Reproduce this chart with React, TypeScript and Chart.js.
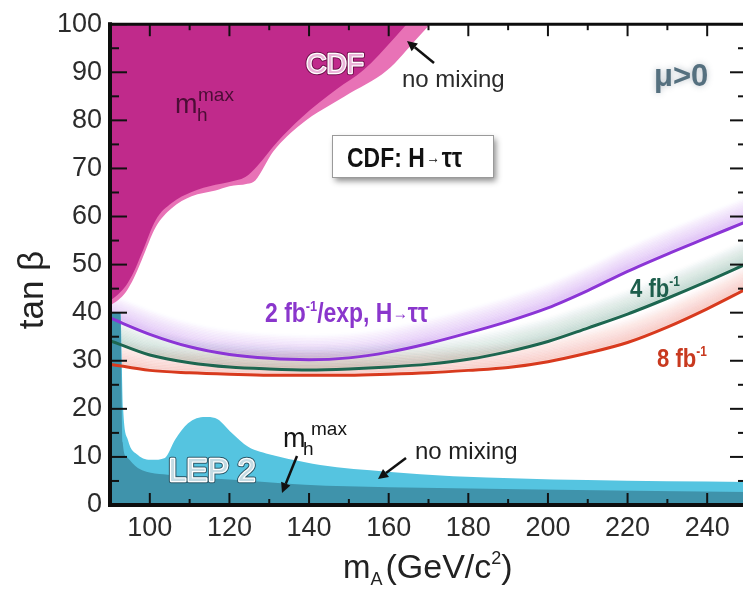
import React, { useEffect, useRef } from "react";
import { Chart, registerables } from "chart.js";

Chart.register(...registerables);

// ---- axis ticks ----
const xTickValues = [100, 120, 140, 160, 180, 200, 220, 240];
const xMinorTickValues = [110, 130, 150, 170, 190, 210, 230];
const yTickValues = [0, 10, 20, 30, 40, 50, 60, 70, 80, 90, 100];
const yMinorTickValues = [5, 15, 25, 35, 45, 55, 65, 75, 85, 95];

// ---- expected sensitivity curves (tan beta vs mA) ----
const mA = [90, 100, 110, 120, 130, 140, 150, 160, 170, 180, 190, 200, 210, 220, 230, 240, 250];
const tanB2fbExp = [38.9, 35.5, 32.9, 31.3, 30.5, 30.2, 30.6, 31.8, 33.6, 35.8, 38.2, 41.0, 44.6, 48.6, 52.2, 55.6, 59.0];
const tanB4fb = [34.2, 31.2, 29.6, 28.7, 28.3, 28.1, 28.3, 28.7, 29.3, 30.3, 31.9, 34.0, 36.8, 39.7, 43.0, 46.5, 50.2];
const tanB8fb = [29.3, 28.0, 27.5, 27.2, 27.0, 27.0, 27.0, 27.2, 27.5, 28.0, 28.6, 29.8, 31.6, 33.8, 37.0, 40.8, 45.0];

// ---- CDF excluded regions (boundary, excluded above) ----
const cdfMhmaxMA = [90, 92, 94, 96, 98, 101.5, 105.5, 110.5, 116.5, 120, 124, 127, 132, 138, 147, 153.6, 161.6, 164.5];
const cdfMhmaxTanB = [42.5, 43.8, 45.6, 48.5, 52.4, 59.3, 62.8, 65.1, 66.6, 67.2, 68.2, 70.5, 75.5, 80.5, 86.5, 90.4, 97.3, 100];
const cdfNoMixMA = [90, 92, 94, 96, 98, 101.5, 105.5, 110.5, 116.5, 120, 124.5, 126.5, 131, 138, 149, 159.6, 167.4, 170.4];
const cdfNoMixTanB = [41.5, 42.6, 44.3, 47.2, 51.0, 57.8, 61.7, 64.2, 65.4, 66.3, 66.8, 67.5, 73.5, 79.2, 85.0, 90.4, 97.3, 100];

// ---- LEP 2 excluded regions (boundary, excluded below) ----
const lepNoMixMA = [90, 92.6, 93.3, 94.5, 97, 100.5, 103.8, 106.3, 109.6, 113.9, 116.4, 120.6, 124.7, 130.7, 139, 142.8, 159.6, 176.2, 209.8, 250];
const lepNoMixTanB = [40, 40, 20, 13.5, 10.4, 9.4, 9.8, 13.5, 17, 18.3, 18.1, 15, 12.1, 10.4, 8.9, 8.3, 6.9, 6.0, 5.2, 4.8];
const lepMhmaxMA = [90, 92.6, 93.2, 94.2, 97, 105.6, 122, 139, 160, 193, 250];
const lepMhmaxTanB = [40, 40, 13, 10, 7.7, 6.2, 5.2, 4.2, 3.7, 3.3, 2.7];

const FONT = '"Liberation Sans", Arial, Helvetica, sans-serif';

const pts = (xs: number[], ys: number[]) => xs.map((x, i) => ({ x, y: ys[i] }));

type Seg = { t: string; size: number; bold?: boolean; dy?: number; dx?: number };

function drawRich(ctx: CanvasRenderingContext2D, x: number, y: number, segs: Seg[], color: string, sx = 1, align: "left" | "center" = "left") {
  ctx.save();
  ctx.translate(x, y);
  ctx.scale(sx, 1);
  ctx.textBaseline = "alphabetic";
  ctx.textAlign = "left";
  let w = 0;
  for (const s of segs) {
    ctx.font = `${s.bold ? "bold " : ""}${s.size}px ${FONT}`;
    w += ctx.measureText(s.t).width + (s.dx || 0);
  }
  let cx = align === "center" ? -w / 2 : 0;
  ctx.fillStyle = color;
  for (const s of segs) {
    ctx.font = `${s.bold ? "bold " : ""}${s.size}px ${FONT}`;
    cx += s.dx || 0;
    ctx.fillText(s.t, cx, s.dy || 0);
    cx += ctx.measureText(s.t).width;
  }
  ctx.restore();
}

function drawOutlined(ctx: CanvasRenderingContext2D, text: string, cx: number, y: number, size: number, fill: string, edge: string) {
  ctx.save();
  ctx.font = `${size}px ${FONT}`;
  ctx.textAlign = "center";
  ctx.textBaseline = "alphabetic";
  ctx.lineJoin = "round";
  ctx.lineWidth = 4.5;
  ctx.strokeStyle = edge;
  ctx.strokeText(text, cx, y);
  ctx.lineWidth = 2.5;
  ctx.strokeStyle = "#ffffff";
  ctx.strokeText(text, cx, y);
  ctx.fillStyle = fill;
  ctx.fillText(text, cx, y);
  ctx.restore();
}

function drawArrow(ctx: CanvasRenderingContext2D, x1: number, y1: number, x2: number, y2: number, color = "#111") {
  const ang = Math.atan2(y2 - y1, x2 - x1);
  const head = 10;
  const bx = x2 - Math.cos(ang) * head;
  const by = y2 - Math.sin(ang) * head;
  ctx.save();
  ctx.strokeStyle = color;
  ctx.fillStyle = color;
  ctx.lineWidth = 2.5;
  ctx.beginPath();
  ctx.moveTo(x1, y1);
  ctx.lineTo(bx, by);
  ctx.stroke();
  ctx.beginPath();
  ctx.moveTo(x2, y2);
  ctx.lineTo(bx + Math.sin(ang) * 5, by - Math.cos(ang) * 5);
  ctx.lineTo(bx - Math.sin(ang) * 5, by + Math.cos(ang) * 5);
  ctx.closePath();
  ctx.fill();
  ctx.restore();
}

function smoothPath(ctx: CanvasRenderingContext2D, p: { x: number; y: number }[], dy: number) {
  ctx.beginPath();
  ctx.moveTo(p[0].x, p[0].y + dy);
  for (let i = 0; i < p.length - 1; i++) {
    const p0 = p[i - 1] || p[i];
    const p1 = p[i];
    const p2 = p[i + 1];
    const p3 = p[i + 2] || p2;
    ctx.bezierCurveTo(
      p1.x + (p2.x - p0.x) / 6, p1.y + (p2.y - p0.y) / 6 + dy,
      p2.x - (p3.x - p1.x) / 6, p2.y - (p3.y - p1.y) / 6 + dy,
      p2.x, p2.y + dy
    );
  }
}

const glowPlugin = {
  id: "glowBands",
  beforeDatasetsDraw(chart: any) {
    const ctx: CanvasRenderingContext2D = chart.ctx;
    const a = chart.chartArea;
    ctx.save();
    ctx.beginPath();
    ctx.rect(a.left, a.top, a.right - a.left, a.bottom - a.top);
    ctx.clip();
    chart.data.datasets.forEach((ds: any, i: number) => {
      if (!ds.glowColor) return;
      const meta = chart.getDatasetMeta(i);
      const p = meta.data.map((e: any) => ({ x: e.x, y: e.y }));
      const N = 16;
      ctx.lineWidth = 4;
      for (let k = N; k >= 1; k--) {
        ctx.strokeStyle = `rgba(${ds.glowColor},${(0.15 * (1 - k / (N + 1))).toFixed(3)})`;
        smoothPath(ctx, p, -k * 1.5);
        ctx.stroke();
      }
    });
    ctx.restore();
  },
};

const framePlugin = {
  id: "frameTicks",
  afterDatasetsDraw(chart: any) {
    const ctx: CanvasRenderingContext2D = chart.ctx;
    const a = chart.chartArea;
    const xs = chart.scales.x;
    const ys = chart.scales.y;
    ctx.save();
    ctx.strokeStyle = "#111";
    ctx.lineWidth = 2;
    const tick = (x1: number, y1: number, x2: number, y2: number) => {
      ctx.beginPath();
      ctx.moveTo(x1, y1);
      ctx.lineTo(x2, y2);
      ctx.stroke();
    };
    for (const v of xTickValues) {
      const x = xs.getPixelForValue(v);
      tick(x, a.bottom, x, a.bottom - 12);
      tick(x, a.top, x, a.top + 12);
    }
    for (const v of xMinorTickValues) {
      const x = xs.getPixelForValue(v);
      tick(x, a.bottom, x, a.bottom - 6);
      tick(x, a.top, x, a.top + 6);
    }
    for (const v of yTickValues) {
      const y = ys.getPixelForValue(v);
      tick(a.left, y, a.left + 17, y);
      tick(a.right, y, a.right - 17, y);
    }
    for (const v of yMinorTickValues) {
      const y = ys.getPixelForValue(v);
      tick(a.left, y, a.left + 9, y);
      tick(a.right, y, a.right - 9, y);
    }
    ctx.lineCap = "square";
    ctx.strokeStyle = "#0d0d0d";
    ctx.lineWidth = 4;
    tick(a.left, a.top, a.left, a.bottom);
    tick(a.left, a.bottom, a.right, a.bottom);
    ctx.lineWidth = 3;
    tick(a.left, a.top, a.right, a.top);
    tick(a.right, a.top, a.right, a.bottom);
    ctx.restore();
  },
};

const annotationPlugin = {
  id: "annotations",
  afterDraw(chart: any) {
    const ctx: CanvasRenderingContext2D = chart.ctx;
    // CDF region labels
    drawOutlined(ctx, "CDF", 335, 73, 28, "#eab3d8", "#6d0f4a");
    drawRich(ctx, 175, 113, [{ t: "m", size: 27 }], "#4b0d35");
    drawRich(ctx, 197, 121, [{ t: "h", size: 19 }], "#4b0d35");
    drawRich(ctx, 198, 101, [{ t: "max", size: 19 }], "#4b0d35");
    drawRich(ctx, 402, 87, [{ t: "no mixing", size: 24 }], "#2a2a2a");
    drawArrow(ctx, 434, 63, 407, 41);

    // mu > 0
    ctx.save();
    ctx.shadowColor = "rgba(60,80,100,0.35)";
    ctx.shadowBlur = 6;
    drawRich(ctx, 654, 86, [{ t: "μ>0", size: 31, bold: true }], "#55707f");
    ctx.restore();

    // Box
    ctx.save();
    ctx.shadowColor = "rgba(0,0,0,0.45)";
    ctx.shadowBlur = 6;
    ctx.shadowOffsetX = 3;
    ctx.shadowOffsetY = 4;
    ctx.fillStyle = "#ffffff";
    ctx.fillRect(332, 135, 161, 42);
    ctx.restore();
    ctx.save();
    ctx.strokeStyle = "#9a9a9a";
    ctx.lineWidth = 1;
    ctx.strokeRect(332.5, 135.5, 161, 42);
    ctx.restore();
    drawRich(ctx, 347, 167, [
      { t: "CDF: H", size: 27, bold: true },
      { t: "→", size: 16, bold: true, dy: -4, dx: 2 },
      { t: "ττ", size: 27, bold: true, dx: 2 },
    ], "#111", 0.85);

    // curve labels
    drawRich(ctx, 265, 322, [
      { t: "2 fb", size: 27, bold: true },
      { t: "-1", size: 15, bold: true, dy: -11 },
      { t: "/exp, H", size: 27, bold: true },
      { t: "→", size: 18, bold: true, dy: -3 },
      { t: "ττ", size: 27, bold: true },
    ], "#8a36cc", 0.85);
    drawRich(ctx, 630, 297, [
      { t: "4 fb", size: 26, bold: true },
      { t: "-1", size: 14, bold: true, dy: -11 },
    ], "#1d5e4c", 0.85);
    drawRich(ctx, 657, 367, [
      { t: "8 fb", size: 26, bold: true },
      { t: "-1", size: 14, bold: true, dy: -11 },
    ], "#c8391f", 0.85);

    // LEP labels
    drawOutlined(ctx, "LEP 2", 212, 481, 32, "#c4dbe3", "#2b5565");
    drawRich(ctx, 283, 447, [{ t: "m", size: 27 }], "#151515");
    drawRich(ctx, 303, 455, [{ t: "h", size: 19 }], "#151515");
    drawRich(ctx, 311, 435, [{ t: "max", size: 19 }], "#151515");
    drawArrow(ctx, 297, 456, 282, 493);
    drawRich(ctx, 415, 459, [{ t: "no mixing", size: 24 }], "#1e1e1e");
    drawArrow(ctx, 406, 458, 378, 479);

    // axis titles
    ctx.save();
    ctx.translate(31, 290);
    ctx.rotate(-Math.PI / 2);
    drawRich(ctx, 0, 12, [{ t: "tan β", size: 35 }], "#222", 1, "center");
    ctx.restore();
    drawRich(ctx, 343, 578, [
      { t: "m", size: 33 },
      { t: "A", size: 18, dy: 7 },
      { t: "(GeV/c", size: 34, dx: 3 },
      { t: "2", size: 18, dy: -14 },
      { t: ")", size: 34 },
    ], "#222");
  },
};

export default function App() {
  const ref = useRef<HTMLCanvasElement | null>(null);
  useEffect(() => {
    if (!ref.current) return;
    const chart = new Chart(ref.current, {
      type: "line",
      data: {
        datasets: [
          {
            label: "2 fb-1/exp",
            data: pts(mA, tanB2fbExp),
            borderColor: "#8b35d6",
            borderWidth: 3,
            fill: false,
            cubicInterpolationMode: "monotone",
            order: 1,
            glowColor: "170,90,230",
          } as any,
          {
            label: "4 fb-1",
            data: pts(mA, tanB4fb),
            borderColor: "#1d6650",
            borderWidth: 3,
            fill: false,
            cubicInterpolationMode: "monotone",
            order: 1,
            glowColor: "90,150,130",
          } as any,
          {
            label: "8 fb-1",
            data: pts(mA, tanB8fb),
            borderColor: "#d83a1e",
            borderWidth: 3,
            fill: false,
            cubicInterpolationMode: "monotone",
            order: 1,
            glowColor: "235,110,100",
          } as any,
          {
            label: "CDF no mixing",
            data: pts(cdfNoMixMA, cdfNoMixTanB),
            borderWidth: 0,
            borderColor: "rgba(0,0,0,0)",
            backgroundColor: "#e872b6",
            fill: "end",
            cubicInterpolationMode: "monotone",
            order: 5,
          },
          {
            label: "CDF mhmax",
            data: pts(cdfMhmaxMA, cdfMhmaxTanB),
            borderWidth: 0,
            borderColor: "rgba(0,0,0,0)",
            backgroundColor: "#c02a8b",
            fill: "end",
            cubicInterpolationMode: "monotone",
            order: 4,
          },
          {
            label: "LEP no mixing",
            data: pts(lepNoMixMA, lepNoMixTanB),
            borderWidth: 0,
            borderColor: "rgba(0,0,0,0)",
            backgroundColor: "#55c4e0",
            fill: "start",
            cubicInterpolationMode: "monotone",
            order: 5,
          },
          {
            label: "LEP mhmax",
            data: pts(lepMhmaxMA, lepMhmaxTanB),
            borderWidth: 0,
            borderColor: "rgba(0,0,0,0)",
            backgroundColor: "#3f93ab",
            fill: "start",
            cubicInterpolationMode: "monotone",
            order: 4,
          },
        ],
      },
      options: {
        responsive: false,
        devicePixelRatio: 1,
        animation: false,
        events: [],
        layout: { padding: { top: 24, right: 3, left: 0, bottom: 0 } },
        elements: { point: { radius: 0 } },
        plugins: { legend: { display: false }, tooltip: { enabled: false } },
        scales: {
          x: {
            type: "linear",
            min: 90,
            max: 250,
            grid: { display: false, drawTicks: false },
            border: { display: false },
            afterBuildTicks: (s: any) => {
              s.ticks = xTickValues.map((v) => ({ value: v }));
            },
            afterFit: (s: any) => {
              s.height = 85;
            },
            ticks: {
              autoSkip: false,
              maxRotation: 0,
              padding: 7,
              color: "#2b2b2b",
              font: { family: FONT, size: 27 },
            },
          },
          y: {
            type: "linear",
            min: 0,
            max: 100,
            grid: { display: false, drawTicks: false },
            border: { display: false },
            afterBuildTicks: (s: any) => {
              s.ticks = yTickValues.map((v) => ({ value: v }));
            },
            afterFit: (s: any) => {
              s.width = 110;
            },
            ticks: {
              autoSkip: false,
              padding: 8,
              color: "#2b2b2b",
              font: { family: FONT, size: 27 },
            },
          },
        },
      },
      plugins: [glowPlugin, framePlugin, annotationPlugin],
    });
    return () => chart.destroy();
  }, []);

  return (
    <div style={{ position: "fixed", left: 0, top: 0, width: 743, height: 590, overflow: "hidden", background: "#fff" }}>
      <canvas ref={ref} width={750} height={590} style={{ display: "block" }} />
    </div>
  );
}
